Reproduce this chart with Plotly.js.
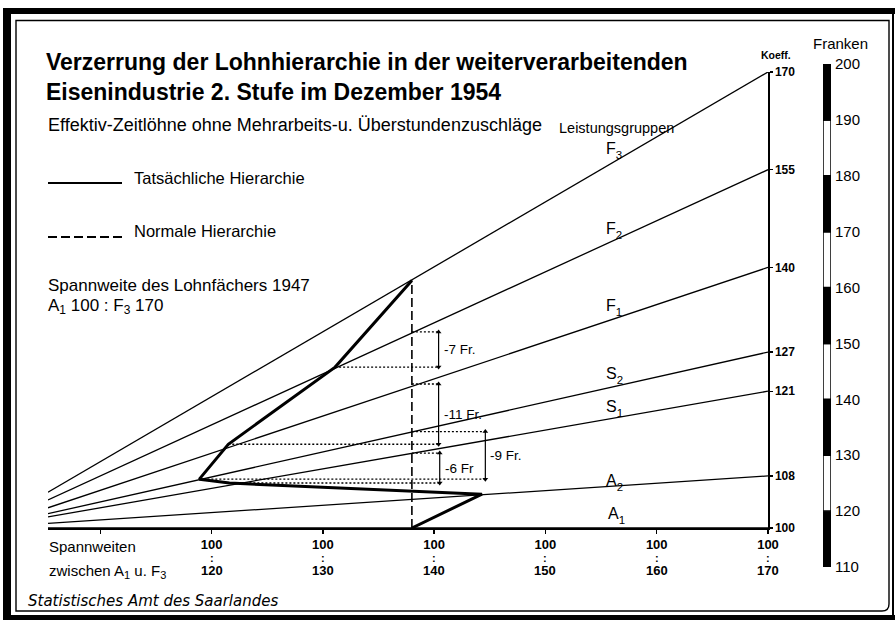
<!DOCTYPE html>
<html><head><meta charset="utf-8">
<script src="https://cdn.plot.ly/plotly-3.0.1.min.js"></script>
<style>html,body{margin:0;padding:0;background:#fff}#chart{width:895px;height:620px}</style>
</head><body><div id="chart"></div>
<script>
// ---------------- data ----------------
const groups      = ['A1','A2','S1','S2','F1','F2','F3'];
const groupLetter = ['A','A','S','S','F','F','F'];
const groupIndex  = ['1','2','1','2','1','2','3'];
const koeff1947   = [100, 108, 121, 127, 140, 155, 170];             // Koeff. at span 100:170
const koeffAtLeft = [100, 100.7, 101.7, 102.2, 103.1, 104.3, 105.5]; // at the left end of the fan
const spanLeft  = 105.3;
const spanRight = 170;
const normalSpan = 138;                                               // actual span A1 : F3, Dec. 1954
const actualSpan  = [138, 144.3, 121.6, 118.9, 121.5, 131.1, 138];
const actualKoeff = [100, 105.2, 106.9, 107.5, 112.85, 124.7, 138];
const diffGroups  = ['F2', 'F1', 'S2', 'S1'];
const normalKoeff = [130.1, 122.1, 114.8, 111.5];
const diffLabels  = ['-7 Fr.', '-11 Fr.', '-9 Fr.', '-6 Fr'];
const bracketSpan = [140.4, 140.4, 144.6, 140.5];
const xTickVals   = [110, 120, 130, 140, 150, 160, 170];
const xTickTop    = ['', '100', '100', '100', '100', '100', '100'];
const xTickBottom = ['', '120', '130', '140', '150', '160', '170'];
const koeffTicks  = [100, 108, 121, 127, 140, 155, 170];
const frankenTicks = [110, 120, 130, 140, 150, 160, 170, 180, 190, 200];

// ---------------- helpers ----------------
const W = 895, H = 620;
const PX = p => p / W;
const PY = p => 1 - p / H;
const BLACK = '#000';
const SANS = 'Liberation Sans, Arial, sans-serif';
const sub = (t, size, shift) => `<span style="font-size:${size}px;baseline-shift:-${shift}px">${t}</span>`;

const traces = [];

// fan lines
groups.forEach((g, i) => {
  traces.push({
    type: 'scatter', mode: 'lines', name: g,
    x: [spanLeft, spanRight], y: [koeffAtLeft[i], koeff1947[i]],
    line: {color: BLACK, width: 1.3}, hoverinfo: 'skip'
  });
});

// normal hierarchy (dashed vertical)
traces.push({
  type: 'scatter', mode: 'lines', name: 'Normale Hierarchie',
  x: [normalSpan, normalSpan], y: [100, actualKoeff[groups.indexOf('F3')]],
  line: {color: BLACK, width: 1.6, dash: '9px,4px'}, hoverinfo: 'skip'
});

// dotted guide lines
const dx = [], dy = [];
diffGroups.forEach((g, j) => {
  const gi = groups.indexOf(g);
  dx.push(normalSpan, bracketSpan[j], null, actualSpan[gi], bracketSpan[j], null);
  dy.push(normalKoeff[j], normalKoeff[j], null, actualKoeff[gi], actualKoeff[gi], null);
});
traces.push({
  type: 'scatter', mode: 'lines', x: dx, y: dy,
  line: {color: BLACK, width: 1.4, dash: '2px,2px'}, hoverinfo: 'skip'
});

// double arrows of the differences
diffGroups.forEach((g, j) => {
  const gi = groups.indexOf(g);
  traces.push({
    type: 'scatter', mode: 'lines+markers', cliponaxis: false,
    x: [bracketSpan[j], bracketSpan[j]], y: [normalKoeff[j], actualKoeff[gi]],
    line: {color: BLACK, width: 1.2},
    marker: {symbol: ['triangle-up', 'triangle-down'], size: 5, color: BLACK, line: {width: 0}},
    hoverinfo: 'skip'
  });
});

// actual hierarchy (thick polyline)
traces.push({
  type: 'scatter', mode: 'lines', name: 'Tatsächliche Hierarchie',
  x: actualSpan, y: actualKoeff,
  line: {color: BLACK, width: 3}, hoverinfo: 'skip'
});

// Franken scale bar
const fBase = frankenTicks.slice(0, -1);
const fLen  = fBase.map((v, i) => frankenTicks[i + 1] - v);
traces.push({
  type: 'bar', xaxis: 'x2', yaxis: 'y2',
  x: fBase.map(() => 'F'), y: fLen, base: fBase, width: 1,
  marker: {color: fBase.map((v, i) => i % 2 === 0 ? BLACK : '#fff'), line: {color: BLACK, width: 1.5}},
  hoverinfo: 'skip'
});

// ---------------- annotations ----------------
const ann = [];
function txt(text, px, py, size, opts) {
  ann.push(Object.assign({
    text: text, xref: 'paper', yref: 'paper', x: PX(px), y: PY(py),
    xanchor: 'left', yanchor: 'middle', showarrow: false,
    font: {family: SANS, size: size, color: BLACK}
  }, opts || {}));
}
txt('Effektiv-Zeitlöhne ohne Mehrarbeits-u. Überstundenzuschläge', 46, 125, 18);
txt('Leistungsgruppen', 557, 128, 14.5);
const labelPos = [[616, 515], [614, 482], [614, 408], [614, 375], [614, 307], [614, 230], [614, 150]];
groups.forEach((g, i) => txt(groupLetter[i] + sub(groupIndex[i], 11.5, 5), labelPos[i][0], labelPos[i][1], 16, {xanchor: 'center'}));
txt('Tatsächliche Hierarchie', 132, 178, 16.5);
txt('Normale Hierarchie', 132, 231, 16.5);
txt('Spannweite des Lohnfächers 1947', 46, 285, 17);
txt('A' + sub('1', 12, 3) + ' 100 : F' + sub('3', 12, 3) + ' 170', 46, 306, 17);
txt('Koeff.', 776, 55, 10.5, {xanchor: 'center', font: {family: SANS, size: 10.5, color: BLACK, weight: 'bold'}});
txt('Franken', 840, 44, 15, {xanchor: 'center'});
txt('Spannweiten', 47, 546, 15);
txt('zwischen A' + sub('1', 11, 3) + ' u. F' + sub('3', 11, 3), 47, 571, 15);
txt('Statistisches Amt des Saarlandes', 26, 601, 15, {font: {family: 'DejaVu Sans, sans-serif', size: 15, color: BLACK, style: 'italic'}});

// 2nd and 3rd rows of the span labels (":" and upper span value)
xTickVals.forEach((v, i) => {
  if (!xTickBottom[i]) return;
  ann.push({xref: 'x', yref: 'paper', x: v, y: PY(557.5), text: ':', showarrow: false, borderpad: 0,
    xanchor: 'center', yanchor: 'middle', font: {family: SANS, size: 11, color: BLACK, weight: 'bold'}});
  ann.push({xref: 'x', yref: 'paper', x: v, y: PY(570), text: xTickBottom[i], showarrow: false, borderpad: 0,
    xanchor: 'center', yanchor: 'middle', font: {family: SANS, size: 13, color: BLACK, weight: 'bold'}});
});

diffGroups.forEach((g, j) => {
  const gi = groups.indexOf(g);
  ann.push({
    xref: 'x', yref: 'y', x: bracketSpan[j], y: (actualKoeff[gi] + normalKoeff[j]) / 2,
    xanchor: 'left', yanchor: 'middle', xshift: 3, showarrow: false,
    text: diffLabels[j], font: {family: SANS, size: 13.5, color: BLACK}
  });
});

// ---------------- frame shapes ----------------
const shapes = [];
function rect(x0, y0, x1, y1) {
  shapes.push({type: 'rect', xref: 'paper', yref: 'paper', x0: PX(x0), x1: PX(x1), y0: PY(y1), y1: PY(y0),
    fillcolor: BLACK, line: {width: 0}, layer: 'above'});
}
rect(3, 8, 11, 620);
rect(3, 8, 895, 14);
rect(3, 615, 895, 620);
rect(892, 8, 894, 620);
shapes.push({type: 'path', xref: 'paper', yref: 'paper',
  path: `M${PX(16)},${PY(20.5)} L${PX(889)},${PY(20.5)} L${PX(889)},${PY(604)} Q${PX(889)},${PY(611)} ${PX(882)},${PY(611)} L${PX(16)},${PY(611)} Z`,
  line: {color: BLACK, width: 1.4}, fillcolor: 'rgba(0,0,0,0)'});
// legend keys
shapes.push({type: 'line', xref: 'paper', yref: 'paper', x0: PX(48), x1: PX(122), y0: PY(183), y1: PY(183), line: {color: BLACK, width: 2.2}});
shapes.push({type: 'line', xref: 'paper', yref: 'paper', x0: PX(48), x1: PX(122), y0: PY(237), y1: PY(237), line: {color: BLACK, width: 1.8, dash: '9px,4px'}});

// ---------------- layout ----------------
const layout = {
  width: W, height: H, margin: {l: 0, r: 0, t: 0, b: 0, pad: 0},
  paper_bgcolor: '#fff', plot_bgcolor: 'rgba(0,0,0,0)', showlegend: false,
  font: {family: SANS, color: BLACK},
  title: {
    text: 'Verzerrung der Lohnhierarchie in der weiterverarbeitenden<br>Eisenindustrie 2. Stufe im Dezember 1954',
    x: PX(46), xanchor: 'left', xref: 'container', y: PY(70), yanchor: 'top', yref: 'container',
    font: {family: SANS, size: 23, weight: 'bold', color: BLACK}
  },
  xaxis: {
    domain: [PX(48), PX(768)], range: [spanLeft, spanRight], anchor: 'y',
    showline: true, linecolor: BLACK, linewidth: 1.5, showgrid: false, zeroline: false,
    tickmode: 'array', tickvals: xTickVals, ticktext: xTickTop,
    ticks: 'outside', ticklen: 4, tickwidth: 1.5, tickcolor: BLACK,
    tickfont: {family: SANS, size: 13, color: BLACK, weight: 'bold'}
  },
  yaxis: {
    domain: [1 - 528 / H, 1 - 72 / H], range: [100, 170], anchor: 'x', side: 'right',
    showline: true, linecolor: BLACK, linewidth: 1.5, showgrid: false, zeroline: false,
    tickmode: 'array', tickvals: koeffTicks, ticks: 'outside', ticklen: 3, tickwidth: 1.3, tickcolor: BLACK,
    tickfont: {family: SANS, size: 12, color: BLACK, weight: 'bold'}
  },
  xaxis2: {domain: [PX(823), PX(831)], anchor: 'y2', visible: false, type: 'category'},
  yaxis2: {
    domain: [PY(567), PY(64)], range: [110, 200], anchor: 'x2', side: 'right',
    showline: false, showgrid: false, zeroline: false, ticks: '',
    tickmode: 'array', tickvals: frankenTicks, ticklabelstandoff: 3,
    tickfont: {family: SANS, size: 15, color: BLACK}
  },
  barmode: 'overlay', bargap: 0,
  shapes: shapes, annotations: ann
};

Plotly.newPlot('chart', traces, layout, {staticPlot: true, displayModeBar: false});
</script>
</body></html>
